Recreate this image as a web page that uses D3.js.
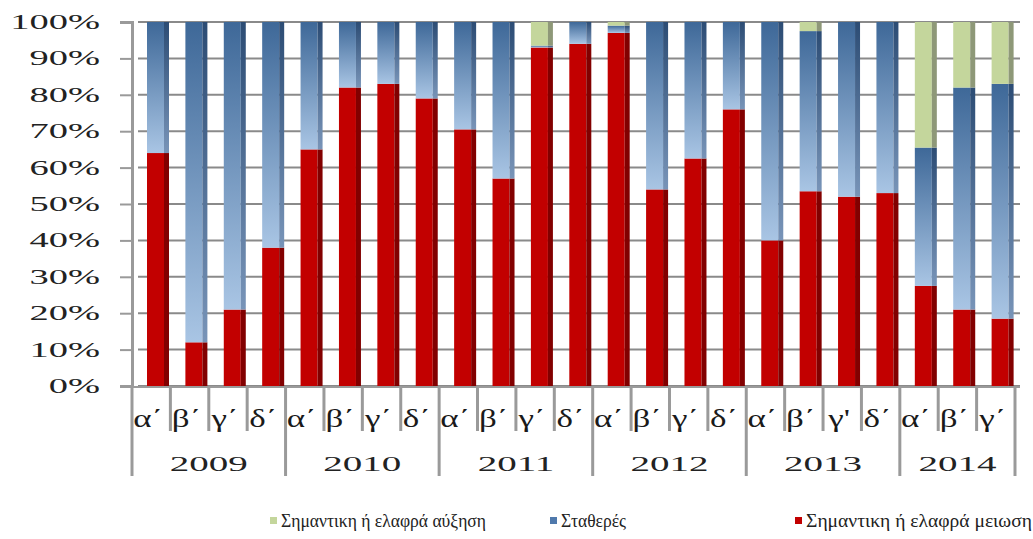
<!DOCTYPE html>
<html>
<head>
<meta charset="utf-8">
<script src="https://cdn.jsdelivr.net/npm/d3@7"></script>
<style>
  html, body { margin: 0; padding: 0; background: #fff; }
  svg { display: block; }
  svg text { font-family: "Liberation Serif", "DejaVu Serif", serif; }
</style>
</head>
<body>
<svg id="chart" width="1033" height="539"></svg>
<script>
// Quarterly survey shares (%), stacked to 100 per quarter
const years = ["2009", "2010", "2011", "2012", "2013", "2014"];
const quarterLabels = [
  ["α΄", "β΄", "γ΄", "δ΄"],
  ["α΄", "β΄", "γ΄", "δ΄"],
  ["α΄", "β΄", "γ΄", "δ΄"],
  ["α΄", "β΄", "γ΄", "δ΄"],
  ["α΄", "β΄", "γ'", "δ΄"],
  ["α΄", "β΄", "γ΄"]
];
const decrease = [64, 12, 21, 38, 65, 82, 83, 79, 70.5, 57, 93, 94, 97, 54, 62.5, 76, 40, 53.5, 52, 53, 27.5, 21, 18.5];
const stable   = [36, 88, 79, 62, 35, 18, 17, 21, 29.5, 43, 0.5, 6, 2, 46, 37.5, 24, 60, 44, 48, 47, 38, 61, 64.5];
const increase = [0, 0, 0, 0, 0, 0, 0, 0, 0, 0, 6.5, 0, 1, 0, 0, 0, 0, 2.5, 0, 0, 34.5, 18, 17];
const yTicks = [0, 10, 20, 30, 40, 50, 60, 70, 80, 90, 100];
const seriesNames = ["Σημαντικη ή ελαφρά αύξηση", "Σταθερές", "Σημαντικη ή ελαφρά μειωση"];

// Category list built from the year / quarter arrays
const cats = [];
years.forEach((y, yi) => quarterLabels[yi].forEach((q, qi) => cats.push({ id: y + "-" + qi, year: y, q, yi })));
const rows = cats.map((c, i) => ({ key: c.id, dec: decrease[i], sta: stable[i], inc: increase[i] }));

const svg = d3.select("#chart");
const defs = svg.append("defs");

const xLeft = 132, xRight = 1015;
const x = d3.scaleBand().domain(cats.map(c => c.id)).range([xLeft, xRight]).paddingInner(0).paddingOuter(0);
const y = d3.scaleLinear().domain([0, 100]).range([386, 22]);

// Gradients for the shaded columns
function vGrad(id, top, bottom) {
  const g = defs.append("linearGradient").attr("id", id).attr("x1", 0).attr("y1", 0).attr("x2", 0).attr("y2", 1);
  g.append("stop").attr("offset", "0%").attr("stop-color", top);
  g.append("stop").attr("offset", "100%").attr("stop-color", bottom);
}
vGrad("blueFront", "#3e6898", "#a9c5e4");
vGrad("blueSide", "#2c4c74", "#7894b8");

// Horizontal gridlines
svg.append("g").selectAll("line").data(yTicks).join("line")
  .attr("x1", xLeft + 6).attr("x2", 1020)
  .attr("y1", d => y(d)).attr("y2", d => y(d))
  .attr("stroke", "#8a8a8a").attr("stroke-width", 2);

// Left value axis
const yAxis = svg.append("g").attr("transform", `translate(${xLeft},0)`)
  .call(d3.axisLeft(y).tickValues(yTicks).tickSize(12).tickFormat(""));
yAxis.select(".domain").attr("stroke", "#9a9a9a").attr("stroke-width", 3);
yAxis.selectAll(".tick line").attr("stroke", "#9a9a9a").attr("stroke-width", 2);

// Tick labels (wide serif face)
svg.append("g").selectAll("text").data(yTicks).join("text")
  .attr("transform", d => `translate(100,${y(d) + 7}) scale(1.75,1)`)
  .attr("text-anchor", "end")
  .attr("font-size", 22)
  .attr("fill", "#222")
  .text(d => d + "%");

// Stacked columns
const stack = d3.stack().keys(["dec", "sta", "inc"])(rows);
const frontFill = { dec: "#c20000", sta: "url(#blueFront)", inc: "#c4d69c" };
const sideFill = { dec: "#820000", sta: "url(#blueSide)", inc: "#8e9878" };
const barOff = 15, frontW = 17, sideW = 5;

const layers = svg.append("g").selectAll("g").data(stack).join("g");
layers.each(function (layer) {
  const key = layer.key;
  const sel = d3.select(this).selectAll("g").data(layer.filter(d => d[1] - d[0] > 0)).join("g");
  sel.append("rect")
    .attr("x", d => x(d.data.key) + barOff)
    .attr("y", d => y(d[1]))
    .attr("width", frontW)
    .attr("height", d => y(d[0]) - y(d[1]))
    .attr("fill", frontFill[key]);
  sel.append("rect")
    .attr("x", d => x(d.data.key) + barOff + frontW)
    .attr("y", d => y(d[1]))
    .attr("width", sideW)
    .attr("height", d => y(d[0]) - y(d[1]))
    .attr("fill", sideFill[key]);
});

// Floor line
svg.append("line").attr("x1", xLeft).attr("x2", 1020).attr("y1", y(0) + 1).attr("y2", y(0) + 1)
  .attr("stroke", "#9a9a9a").attr("stroke-width", 2);

// Category table: quarter separators and year separators
const bottom = svg.append("g");
const yearStart = years.map((yr, yi) => cats.findIndex(c => c.yi === yi));
bottom.selectAll("line.q").data(cats).join("line")
  .attr("class", "q")
  .attr("x1", d => x(d.id)).attr("x2", d => x(d.id))
  .attr("y1", y(0)).attr("y2", (d, i) => yearStart.includes(i) ? 476 : 431)
  .attr("stroke", "#9a9a9a").attr("stroke-width", 3);
bottom.append("line").attr("x1", xRight).attr("x2", xRight).attr("y1", y(0)).attr("y2", 476)
  .attr("stroke", "#9a9a9a").attr("stroke-width", 3);

// Quarter labels
bottom.selectAll("text.q").data(cats).join("text")
  .attr("class", "q")
  .attr("transform", d => `translate(${x(d.id) + x.bandwidth() / 2 - 3},427) scale(1.4,1)`)
  .attr("text-anchor", "middle")
  .attr("font-size", 25)
  .attr("fill", "#1a1a1a")
  .text(d => d.q);

// Year labels centred under their quarters
bottom.selectAll("text.y").data(years).join("text")
  .attr("class", "y")
  .attr("transform", (d, yi) => {
    const s = x(cats[yearStart[yi]].id);
    const e = yi + 1 < years.length ? x(cats[yearStart[yi + 1]].id) : xRight;
    return `translate(${(s + e) / 2},471) scale(1.95,1)`;
  })
  .attr("text-anchor", "middle")
  .attr("font-size", 20)
  .attr("fill", "#222")
  .text(d => d);

// Legend
const legendItems = [
  { name: seriesNames[0], color: "#c4d69c", x: 270, w: 205 },
  { name: seriesNames[1], color: "#4f79ac", x: 550, w: 65 },
  { name: seriesNames[2], color: "#c20000", x: 795, w: 226 }
];
const lg = svg.append("g").selectAll("g").data(legendItems).join("g")
  .attr("transform", d => `translate(${d.x},521)`);
lg.append("rect").attr("x", 0).attr("y", -4).attr("width", 7).attr("height", 7).attr("fill", d => d.color);
lg.append("text").attr("x", 11).attr("y", 6)
  .attr("font-size", 18).attr("fill", "#222")
  .attr("textLength", d => d.w).attr("lengthAdjust", "spacingAndGlyphs")
  .text(d => d.name);
</script>
</body>
</html>
